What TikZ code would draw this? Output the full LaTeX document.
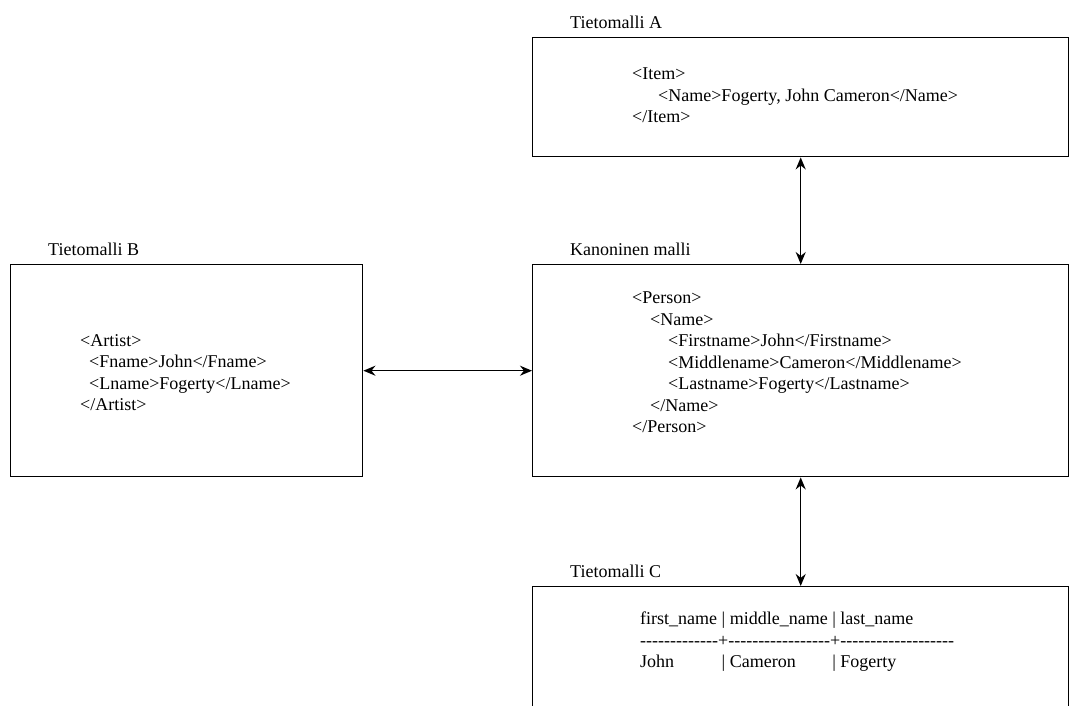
\documentclass[tikz,border=0pt]{standalone}
\usepackage{fontspec}
\setmainfont{Liberation Serif}
\usetikzlibrary{positioning,arrows.meta}
\tikzset{
  malli/.style={draw,line width=1.4pt,anchor=north west,inner sep=0pt},
  otsikko/.style={inner sep=0pt,font=\fontsize{18}{21.5}\selectfont},
  koodi/.style={inner sep=0pt,align=left,font=\fontsize{18}{21.5}\selectfont},
  yhteys/.style={{Stealth[length=12pt,width=10pt]}-{Stealth[length=12pt,width=10pt]},line width=1.4pt}
}
\newcommand\viivat[1]{\foreach \n in {1,...,#1}{-{}}}
\begin{document}
\begin{tikzpicture}[x=1pt,y=-1pt]
  \clip (0,0) rectangle (1081,706);
  % laatikot
  \node[malli,minimum width=536pt,minimum height=119pt] (mA) at (532,37) {};
  \node[malli,minimum width=352pt,minimum height=212pt] (mB) at (10,264) {};
  \node[malli,minimum width=536pt,minimum height=212pt] (mK) at (532,264) {};
  \node[malli,minimum width=536pt,minimum height=160pt] (mC) at (532,586) {};
  % otsikot
  \node[otsikko,above right=8pt and 38pt of mA.north west] (oA) {Tietomalli A};
  \node[otsikko,above right=8pt and 38pt of mB.north west] (oB) {Tietomalli B};
  \node[otsikko,above right=8pt and 38pt of mK.north west] (oK) {Kanoninen malli};
  \node[otsikko,above right=8pt and 38pt of mC.north west] (oC) {Tietomalli C};
  % sisallot
  \node[koodi,below right=31pt and 100pt of mA.north west] (tA) {%
    <Item>\\
    \hspace*{26pt}<Name>Fogerty, John Cameron</Name>\\
    </Item>};
  \node[koodi,below right=70pt and 70pt of mB.north west] (tB) {%
    <Artist>\\
    \hspace*{9pt}<Fname>John</Fname>\\
    \hspace*{9pt}<Lname>Fogerty</Lname>\\
    </Artist>};
  \node[koodi,below right=28pt and 100pt of mK.north west] (tK) {%
    <Person>\\
    \hspace*{18pt}<Name>\\
    \hspace*{36pt}<Firstname>John</Firstname>\\
    \hspace*{36pt}<Middlename>Cameron</Middlename>\\
    \hspace*{36pt}<Lastname>Fogerty</Lastname>\\
    \hspace*{18pt}</Name>\\
    </Person>};
  \node[koodi,below right=26pt and 108pt of mC.north west] (tC) {%
    first\_name | middle\_name | last\_name\\
    \viivat{13}+\viivat{17}+\viivat{19}\\
    \rlap{John}\hphantom{first\_name }| \rlap{Cameron}\hphantom{middle\_name }| Fogerty};
  % yhteydet
  \draw[yhteys] (mA) -- (mK);
  \draw[yhteys] (mB) -- (mK);
  \draw[yhteys] (mK) -- (mC);
\end{tikzpicture}
\end{document}
